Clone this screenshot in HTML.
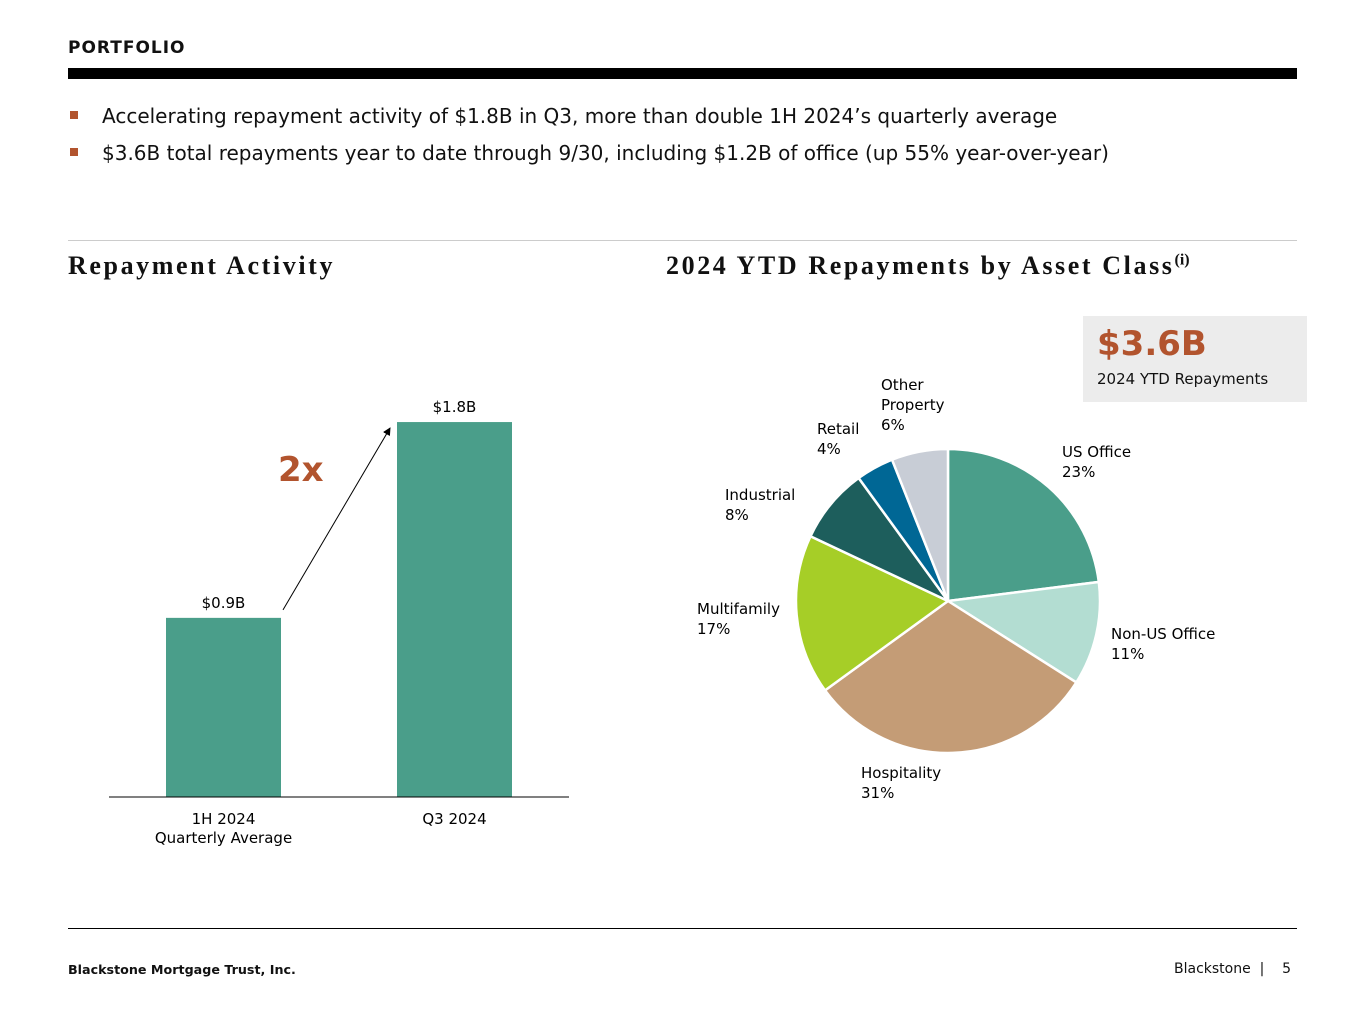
<!DOCTYPE html>
<html><head><meta charset="utf-8"><style>
body{margin:0;width:1365px;height:1024px;background:#fff;font-family:"DejaVu Sans","Liberation Sans",sans-serif;position:relative;overflow:hidden;color:#111}
.abs{position:absolute}
.h{font-family:"Liberation Serif",serif;font-weight:bold;font-size:26px;letter-spacing:2.6px}
.b{font-size:20px;left:102px}
.sq{width:8px;height:8px;background:#b2542e;left:70px}
</style></head><body>
<div class="abs" style="left:68px;top:38px;font-size:17px;font-weight:bold;letter-spacing:1px">PORTFOLIO</div>
<div class="abs" style="left:68px;top:68px;width:1229px;height:11px;background:#000"></div>
<div class="abs sq" style="top:111px"></div>
<div class="abs b" style="top:104px">Accelerating repayment activity of $1.8B in Q3, more than double 1H 2024’s quarterly average</div>
<div class="abs sq" style="top:148px"></div>
<div class="abs b" style="top:141px">$3.6B total repayments year to date through 9/30, including $1.2B of office (up 55% year-over-year)</div>
<div class="abs" style="left:68px;top:240px;width:1229px;height:1px;background:#ccc"></div>
<div class="abs h" style="left:68px;top:251px">Repayment Activity</div>
<div class="abs h" style="left:666px;top:251px">2024 YTD Repayments by Asset Class<sup style="font-size:16px;letter-spacing:0">(i)</sup></div>
<div class="abs" style="left:1083px;top:316px;width:224px;height:86px;background:#ececec">
<div style="position:absolute;left:14px;top:8px;font-size:34px;font-weight:bold;color:#b2542e">$3.6B</div>
<div style="position:absolute;left:14px;top:54px;font-size:15px">2024 YTD Repayments</div></div>
<svg class="abs" style="left:0;top:0" width="1365" height="1024" id="svg"></svg>
<div class="abs" style="left:68px;top:928px;width:1229px;height:1px;background:#000"></div>
<div class="abs" style="left:68px;top:962px;font-size:12.7px;font-weight:bold">Blackstone Mortgage Trust, Inc.</div>
<div class="abs" style="left:1174px;top:961px;font-size:14px">Blackstone &nbsp;| &nbsp;&nbsp;&nbsp;5</div>
<script>
const barCategories=[["1H 2024","Quarterly Average"],["Q3 2024"]];
const barValues=[0.86,1.8];
const barLabels=["$0.9B","$1.8B"];
const pieCategories=["US Office","Non-US Office","Hospitality","Multifamily","Industrial","Retail","Other Property"];
const pieValues=[23,11,31,17,8,4,6];
const pieColors=["#4a9e8a","#b3ddd2","#c49c76","#a6ce27","#1d5e5c","#006795","#c8cdd6"];
const NS="http://www.w3.org/2000/svg",svg=document.getElementById('svg');
function mk(t,a,txt){const e=document.createElementNS(NS,t);for(const k in a)e.setAttribute(k,a[k]);if(txt!=null)e.textContent=txt;svg.appendChild(e);return e;}
const base=797,scale=208.3,bw=115,xs=i=>166+i*231,y=v=>base-v*scale;
barValues.forEach((v,i)=>{
 const r=mk('rect',{x:xs(i),y:y(v),width:bw,height:v*scale,fill:'#4a9e8a'});
 
 
 const t=mk('text',{x:xs(i)+bw/2,y:y(v)-10,'text-anchor':'middle','font-size':15},barLabels[i]);
 
 
 barCategories[i].forEach((s,j)=>{const c=mk('text',{x:xs(i)+bw/2,y:824+j*19,'text-anchor':'middle','font-size':15},s);
 
 });
});
const ax=mk('line',{x1:109,x2:569,y1:base,y2:base,stroke:'#000'});


mk('defs',{}).innerHTML='<marker id="ar" markerWidth="8" markerHeight="8" refX="7" refY="4" orient="auto"><path d="M0,0L8,4L0,8z" fill="#000"/></marker>';
const arr=mk('line',{x1:283,y1:y(barValues[0])-8,x2:390,y2:y(barValues[1])+6,stroke:'#000','marker-end':'url(#ar)'});


const tx=mk('text',{x:278,y:481,'font-size':34,'font-weight':'bold',fill:'#b2542e'},'2x');


const cx=948,cy=601,R=152,tot=pieValues.reduce((a,b)=>a+b,0);
const lab=[[1062,457],[1111,639],[861,778],[697,614],[725,500],[817,434],[881,390]];
let a0=0;
pieValues.forEach((v,i)=>{
 const a1=a0+v/tot*2*Math.PI;
 const p=(a)=>[cx+R*Math.sin(a),cy-R*Math.cos(a)];
 const [x0,y0]=p(a0),[x1,y1]=p(a1);
 const s=mk('path',{d:`M${cx},${cy}L${x0},${y0}A${R},${R} 0 ${a1-a0>Math.PI?1:0} 1 ${x1},${y1}Z`,fill:pieColors[i],stroke:'#fff','stroke-width':2.5});
 
 
 const words=pieCategories[i]==="Other Property"?["Other","Property"]:[pieCategories[i]];
 [...words,v+'%'].forEach((w,j)=>{const t=mk('text',{x:lab[i][0],y:lab[i][1]+j*20,'font-size':15},w);
 
 });
 a0=a1;
});
</script>
</body></html>
